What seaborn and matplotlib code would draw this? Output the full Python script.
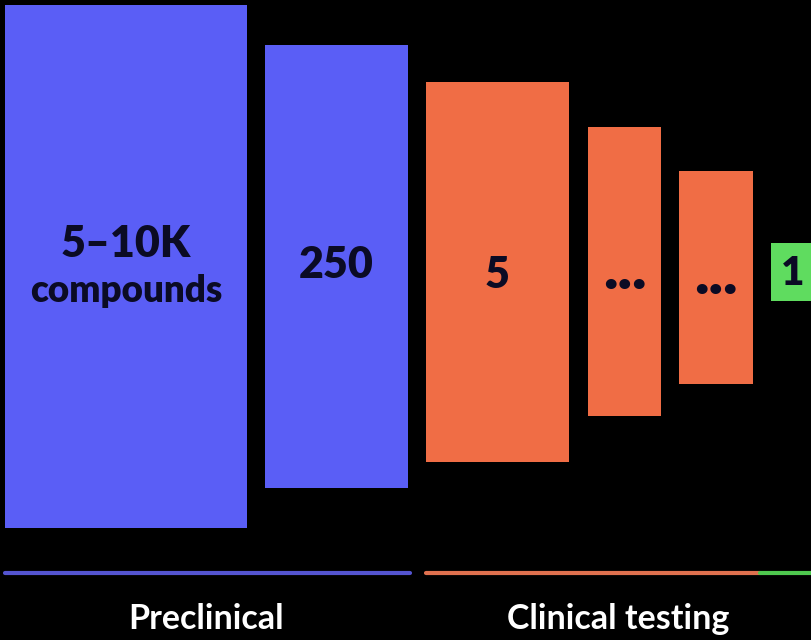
import matplotlib
matplotlib.use("Agg")
import matplotlib.pyplot as plt
import seaborn as sns
import pandas as pd

# Data (pixel-like units)
stages = ["5–10K\ncompounds", "250", "5", "...", "...", "1"]
bar_left = [5, 265, 426, 588, 679, 771]
bar_width = [242, 143, 143, 73, 74, 46]
bar_top = [5, 45, 82, 127, 171, 243]
bar_bottom = [528, 488, 462, 416, 384, 301]
bar_colors = ["#5a5ef6", "#5a5ef6", "#f06d45", "#f06d45", "#f06d45", "#5fdc5f"]

phase_labels = ["Preclinical", "Clinical testing"]
phase_x = [206, 618]
seg_start = [5, 426, 760]
seg_end = [410, 760, 811]
seg_colors = ["#5454d0", "#e0714f", "#4fc94f"]

df = pd.DataFrame({"stage": stages, "left": bar_left, "width": bar_width,
                   "top": bar_top, "bottom": bar_bottom, "color": bar_colors})

sns.set_theme(style="dark", rc={"axes.facecolor": "#000000", "figure.facecolor": "#000000"})
plt.rcParams["font.family"] = ["Lato", "DejaVu Sans"]

fig = plt.figure(figsize=(8.11, 6.4), dpi=100)
ax = fig.add_axes([0, 0, 1, 1])
ax.set_xlim(0, 811)
ax.set_ylim(640, 0)
ax.axis("off")
fig.patch.set_facecolor("#000000")

ax.bar(df["left"], df["bottom"] - df["top"], width=df["width"], bottom=df["top"],
       color=df["color"], align="edge", linewidth=0)

txt_color = "#0b0b24"
for _, r in df.iterrows():
    cx = r["left"] + r["width"] / 2
    lab = r["stage"]
    if "\n" in lab:
        l1, l2 = lab.split("\n")
        ax.text(cx, 257, l1, ha="center", va="baseline", color=txt_color,
                fontsize=31, fontweight="heavy")
        ax.text(cx, 302, l2, ha="center", va="baseline", color=txt_color,
                fontsize=26.5, fontweight="heavy")
    elif lab == "...":
        base = 289 if r["left"] < 650 else 294
        ax.text(cx, base, lab, ha="center", va="baseline", color=txt_color,
                fontsize=44, fontweight="heavy")
    elif lab == "1":
        ax.text(793, 285, lab, ha="center", va="baseline", color=txt_color,
                fontsize=29, fontweight="heavy")
    elif lab == "5":
        ax.text(cx, 288, lab, ha="center", va="baseline", color=txt_color,
                fontsize=31, fontweight="heavy")
    else:
        ax.text(cx, 278, lab, ha="center", va="baseline", color=txt_color,
                fontsize=31, fontweight="heavy")

for s, e, c in zip(seg_start, seg_end, seg_colors):
    ax.plot([s, e], [573, 573], color=c, lw=3, solid_capstyle="round")

for lab, x in zip(phase_labels, phase_x):
    ax.text(x, 629, lab, ha="center", va="baseline", color="#ffffff",
            fontsize=24.5, fontweight="bold")

fig.savefig("out.png", dpi=100, facecolor="#000000")
